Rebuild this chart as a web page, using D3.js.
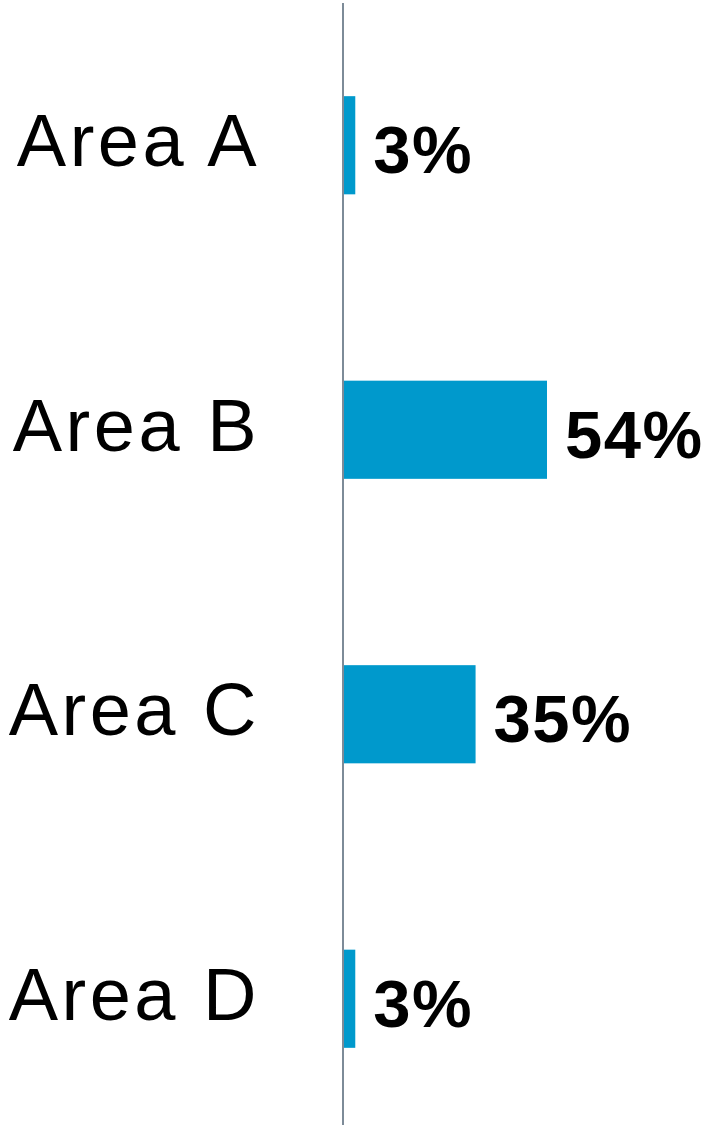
<!DOCTYPE html>
<html>
<head>
<meta charset="utf-8">
<script src="https://cdn.jsdelivr.net/npm/d3@7"></script>
<style>
  html, body { margin: 0; padding: 0; background: #fff; }
  svg { display: block; }
</style>
</head>
<body>
<svg id="chart" width="717" height="1125"></svg>
<script>
const categories = ['Area A', 'Area B', 'Area C', 'Area D']
const values = [3, 54, 35, 3]
const valueLabels = ['3%', '54%', '35%', '3%']

const width = 717
const height = 1125
const axisX = 343

const svg = d3.select('#chart')

const y = d3.scaleBand()
  .domain(categories)
  .range([3, 1141])
  .paddingInner(0.655)
  .paddingOuter(0.3275)

const x = d3.scaleLinear()
  .domain([0, 54])
  .range([axisX + 1, 547])

// bars
svg.append('g')
  .selectAll('rect')
  .data(categories)
  .join('rect')
  .attr('x', x(0))
  .attr('y', d => y(d))
  .attr('width', (d, i) => x(values[i]) - x(0))
  .attr('height', y.bandwidth())
  .attr('fill', '#0099cc')

// axis line
svg.append('line')
  .attr('x1', axisX).attr('x2', axisX)
  .attr('y1', 3).attr('y2', height)
  .attr('stroke', '#7d8b98')
  .attr('stroke-width', 2)

// category labels
svg.append('g')
  .selectAll('text')
  .data(categories)
  .join('text')
  .attr('x', 260)
  .attr('y', d => y(d) + y.bandwidth() / 2 + 21)
  .attr('text-anchor', 'end')
  .attr('font-family', 'Liberation Sans, Arial, sans-serif')
  .attr('font-size', 74)
  .attr('letter-spacing', 3.5)
  .attr('fill', '#000')
  .text(d => d)

// value labels
svg.append('g')
  .selectAll('text')
  .data(categories)
  .join('text')
  .attr('x', (d, i) => x(values[i]) + 18)
  .attr('y', d => y(d) + y.bandwidth() / 2 + 28)
  .attr('font-family', 'Liberation Sans, Arial, sans-serif')
  .attr('font-weight', 'bold')
  .attr('font-size', 67)
  .attr('letter-spacing', 1.5)
  .attr('fill', '#000')
  .text((d, i) => valueLabels[i])
</script>
</body>
</html>
